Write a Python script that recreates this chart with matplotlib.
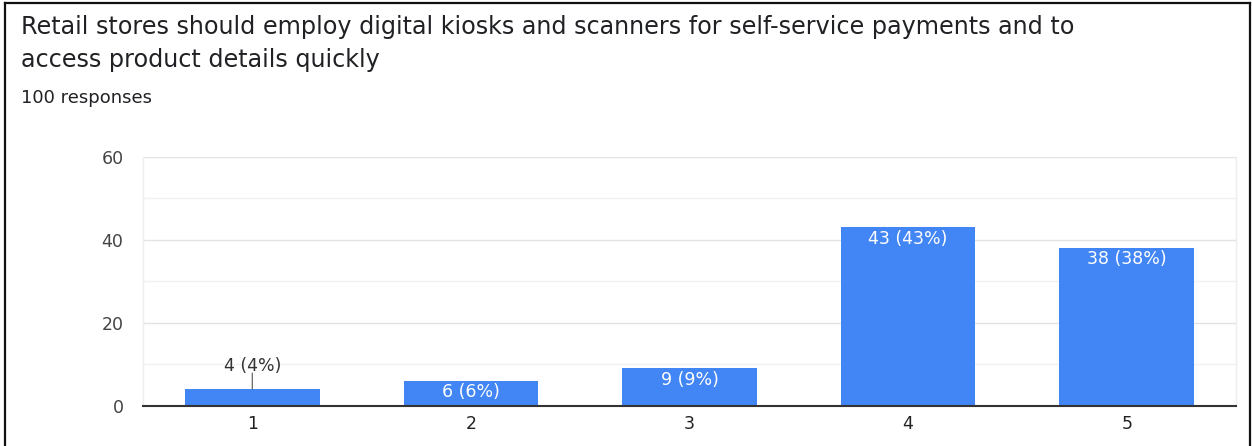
import matplotlib
matplotlib.use("Agg")
import matplotlib.pyplot as plt
from matplotlib.lines import Line2D

# Survey data
categories = ["1", "2", "3", "4", "5"]
counts = [4, 6, 9, 43, 38]
total_responses = 100
title_lines = [
    "Retail stores should employ digital kiosks and scanners for self-service payments and to",
    "access product details quickly",
]
subtitle = f"{total_responses} responses"
y_ticks = [0, 20, 40, 60]

W, H = 1252, 446
fig = plt.figure(figsize=(W / 100, H / 100), dpi=100)
fig.patch.set_facecolor("white")

ax = fig.add_axes([143 / W, (H - 405.7) / H, (1236 - 143) / W, (405.7 - 157) / H])

positions = list(range(1, len(categories) + 1))
bar_color = "#4285F4"
ax.bar(positions, counts, width=0.615, color=bar_color, zorder=3)

ax.set_xlim(0.5, len(categories) + 0.5)
ax.set_ylim(0, 60)
ax.set_yticks(y_ticks)
ax.set_yticks([10, 30, 50], minor=True)
ax.set_xticks(positions)
ax.set_xticklabels(categories)

ax.grid(True, which="major", axis="y", color="#e3e3e3", linewidth=1.0, zorder=0)
ax.grid(True, which="minor", axis="y", color="#f2f2f2", linewidth=1.0, zorder=0)
ax.tick_params(axis="both", which="both", length=0)
ax.tick_params(axis="y", pad=14, labelsize=12.5, labelcolor="#444444")
ax.tick_params(axis="x", pad=7, labelsize=12.5, labelcolor="#222222")

ax.spines["top"].set_visible(False)
for side in ("left", "right"):
    ax.spines[side].set_color("#eeeeee")
    ax.spines[side].set_linewidth(1.0)
ax.spines["bottom"].set_color("#333333")
ax.spines["bottom"].set_linewidth(1.5)
ax.spines["bottom"].set_zorder(4)

# Value labels: inside the bar when tall enough, otherwise above with a leader line
for x, c in zip(positions, counts):
    pct = round(100 * c / total_responses)
    text = f"{c} ({pct}%)"
    if c >= 5:
        ax.annotate(text, xy=(x, c), xytext=(0, -8), textcoords="offset points",
                    ha="center", va="center", color="white", fontsize=12.5, zorder=5)
    else:
        ax.annotate("", xy=(x, c), xytext=(0, 11.5), textcoords="offset points",
                    arrowprops=dict(arrowstyle="-", color="#666666", lw=0.9,
                                    shrinkA=0, shrinkB=0), zorder=5)
        ax.annotate(text, xy=(x, c), xytext=(0, 17), textcoords="offset points",
                    ha="center", va="center", color="#333333", fontsize=12.5, zorder=5)

# Header text
fig.text(21 / W, 1 - 27 / H, title_lines[0], fontsize=17.2, color="#202124",
         ha="left", va="center")
fig.text(21 / W, 1 - 60 / H, title_lines[1], fontsize=17.2, color="#202124",
         ha="left", va="center")
fig.text(21 / W, 1 - 98 / H, subtitle, fontsize=13, color="#202124",
         ha="left", va="center")

# Card border
border_kw = dict(color="#111111", linewidth=1.6, transform=fig.transFigure)
fig.add_artist(Line2D([5 / W, 5 / W], [0, 1 - 3 / H], **border_kw))
fig.add_artist(Line2D([1250 / W, 1250 / W], [0, 1 - 3 / H], **border_kw))
fig.add_artist(Line2D([5 / W, 1250 / W], [1 - 3 / H, 1 - 3 / H], **border_kw))

fig.savefig("out.png", dpi=100, facecolor="white")
